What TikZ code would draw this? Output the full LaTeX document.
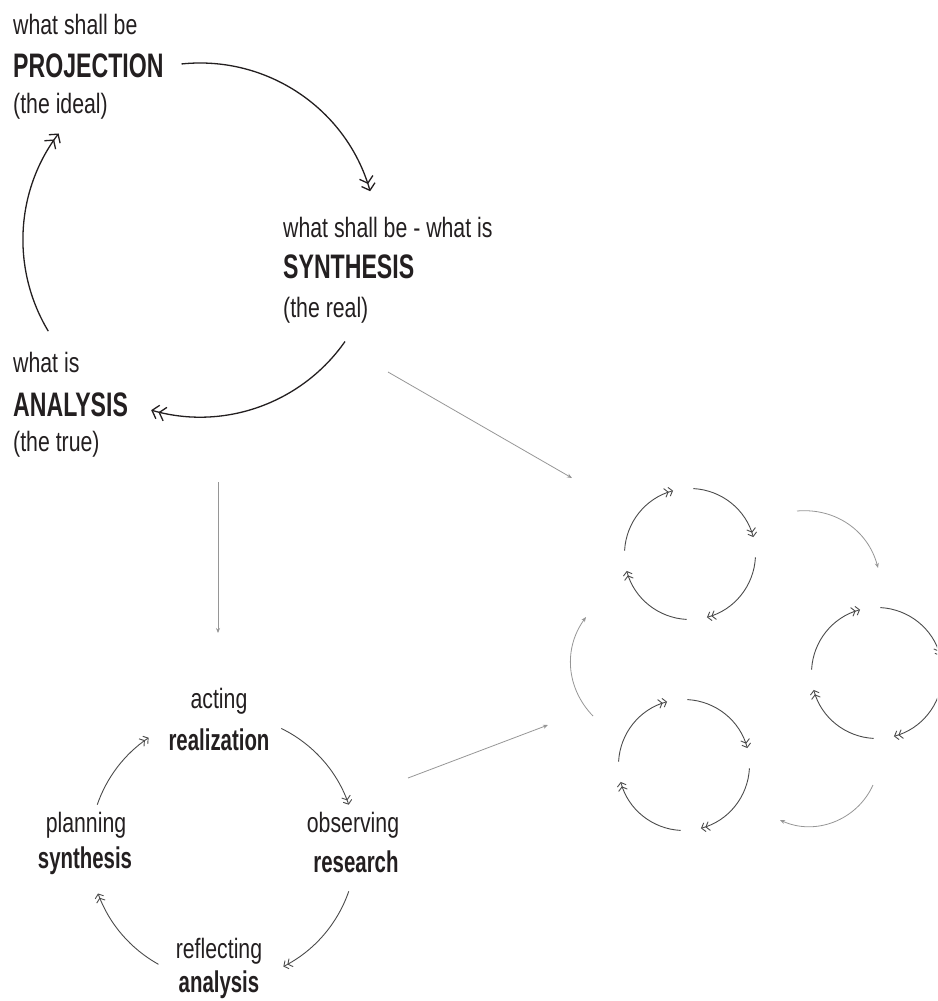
\documentclass[tikz,border=0pt]{standalone}
\usepackage{fontspec}
\setmainfont{Liberation Sans}[FakeStretch=0.76]
\newfontfamily\headfont{Liberation Sans Bold}[FakeStretch=0.68]
\usetikzlibrary{arrows.meta}
\definecolor{ink}{RGB}{35,31,32}
\definecolor{loopgray}{RGB}{75,75,75}
\definecolor{linkgray}{RGB}{150,150,150}
\begin{document}
\begin{tikzpicture}[x=1pt,y=-1pt,
    txt/.style={inner sep=0pt,text=ink,font=\fontsize{28}{32}\selectfont},
    head/.style={inner sep=0pt,text=ink,font=\headfont\fontsize{34}{38}\selectfont},
    subhead/.style={inner sep=0pt,text=ink,font=\headfont\fontsize{30}{34}\selectfont},
    bigloop/.style={line width=1.3pt,draw=ink,-{Straight Barb[length=6pt,width=14pt] Straight Barb[length=6pt,width=14pt]}},
    smallloop/.style={line width=0.9pt,draw=loopgray,-{Straight Barb[length=3.5pt,width=9pt] Straight Barb[length=3.5pt,width=9pt]}},
    link/.style={line width=0.8pt,draw=linkgray,-{Stealth[length=5pt,width=4pt]}}]
    \useasboundingbox (0,0) rectangle (937,1001);
    \clip (0,0) rectangle (937,1001);
    \node[txt,anchor=base west] (projwhat) at (13,34) {what shall be};
    \node[head,anchor=base west] (proj) at (13,77) {PROJECTION};
    \node[txt,anchor=base west] (projsub) at (13,113) {(the ideal)};
    \node[txt,anchor=base west] (synwhat) at (283,237) {what shall be - what is};
    \node[head,anchor=base west] (syn) at (283,278) {SYNTHESIS};
    \node[txt,anchor=base west] (synsub) at (283,317) {(the real)};
    \node[txt,anchor=base west] (anawhat) at (13,372) {what is};
    \node[head,anchor=base west] (ana) at (13,416) {ANALYSIS};
    \node[txt,anchor=base west] (anasub) at (13,451) {(the true)};
    \coordinate (big) at (200,240);
    \draw[bigloop] ([shift={(-96:177)}]big) arc[start angle=-96,end angle=-16,radius=177];
    \draw[bigloop] ([shift={(35:177)}]big) arc[start angle=35,end angle=106,radius=177];
    \draw[bigloop] ([shift={(149:177)}]big) arc[start angle=149,end angle=217,radius=177];
    \node[txt,anchor=base] (act) at (219,708) {acting};
    \node[subhead,anchor=base] (real) at (219,750) {realization};
    \node[txt,anchor=base] (plan) at (86,832) {planning};
    \node[subhead,anchor=base] (synth) at (85,868) {synthesis};
    \node[txt,anchor=base] (obs) at (353,832) {observing};
    \node[subhead,anchor=base] (res) at (356,872) {research};
    \node[txt,anchor=base] (refl) at (219,958) {reflecting};
    \node[subhead,anchor=base] (anal) at (219,992) {analysis};
    \coordinate (small) at (223,848);
    \foreach \a/\b in {-64/-19,19/63,119/160,199/236}
        \draw[smallloop] ([shift={(\a:133)}]small) arc[start angle=\a,end angle=\b,radius=133];
    \coordinate (ca) at (690,554);
    \coordinate (cb) at (877,673);
    \coordinate (cc) at (684,765);
    \foreach \c in {ca,cb,cc}
        \foreach \a in {-87,3,93,183}
            \draw[smallloop] ([shift={(\a:65.5)}]\c) arc[start angle=\a,delta angle=72,radius=65.5];
    \coordinate (synout) at (388,372);
    \coordinate (clin) at (572,478);
    \coordinate (anaout) at (218,482);
    \coordinate (cycin) at (218,633);
    \coordinate (cycout) at (408,778);
    \coordinate (clin2) at (548,725);
    \draw[link] (synout) -- (clin);
    \draw[link] (anaout) -- (cycin);
    \draw[link] (cycout) -- (clin2);
    \coordinate (ab1) at (797,511);
    \coordinate (ab2) at (878,568);
    \coordinate (bc1) at (873,785);
    \coordinate (bc2) at (780,820);
    \coordinate (ca1) at (593,716);
    \coordinate (ca2) at (586,617);
    \draw[link] (ab1) to[bend left=40] (ab2);
    \draw[link] (bc1) to[bend left=45] (bc2);
    \draw[link] (ca1) to[bend left=40] (ca2);
\end{tikzpicture}
\end{document}
